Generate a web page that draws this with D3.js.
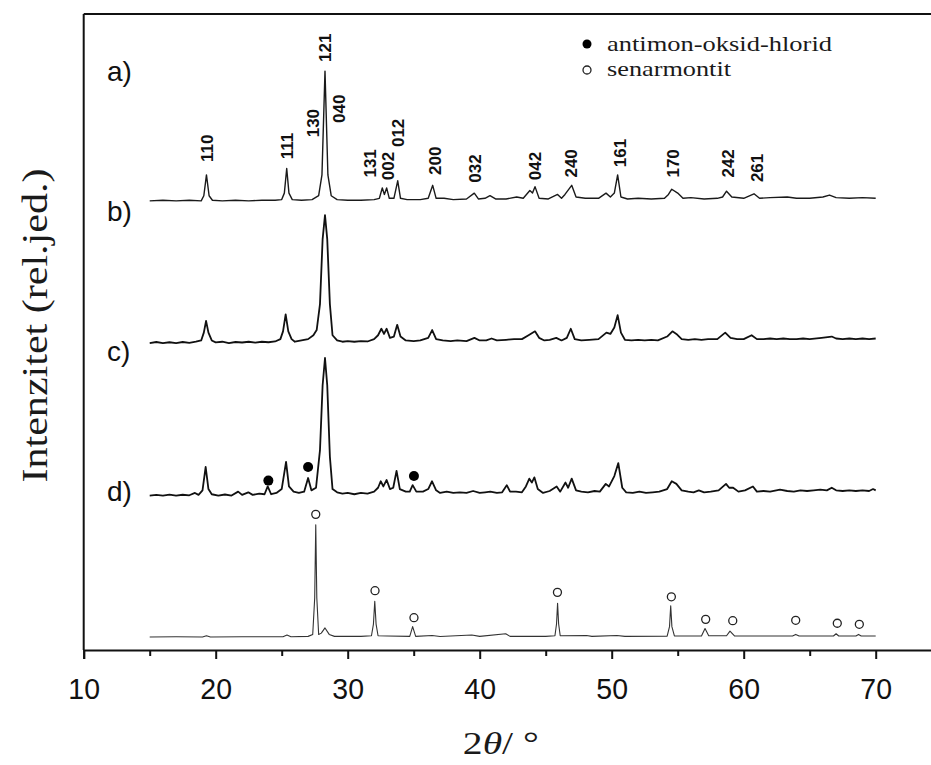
<!DOCTYPE html>
<html>
<head>
<meta charset="utf-8">
<script src="https://cdn.jsdelivr.net/npm/d3@7"></script>
<style>
	body { margin: 0; background: #fff; }
	svg { display: block; }
</style>
</head>
<body>
<script>

// panel names and vertical offsets (relative intensity units)
var panels = ['a)', 'b)', 'c)', 'd)'];
var offsets = [3.46, 2.365, 1.19, 0.10];

// diffractograms, [2theta, relative intensity]
var specA = [[15.0, 0.0], [16.0, 0.005], [17.0, 0.0], [18.0, 0.005], [18.9, 0.0], [19.1, 0.04], [19.3, 0.20], [19.5, 0.04], [19.75, 0.005],
	[20.5, 0.0], [21.5, 0.005], [22.5, 0.0], [23.5, 0.005], [24.5, 0.005], [25.0, 0.01], [25.2, 0.06], [25.38, 0.25], [25.55, 0.06],
	[25.8, 0.01], [26.5, 0.005], [27.3, 0.01], [27.8, 0.04], [28.05, 0.2], [28.28, 1.0], [28.5, 0.2], [28.75, 0.04], [29.2, 0.01],
	[30.0, 0.005], [31.0, 0.005], [32.0, 0.01], [32.4, 0.02], [32.62, 0.10], [32.78, 0.05], [32.95, 0.10], [33.15, 0.02], [33.5, 0.02],
	[33.79, 0.155], [34.0, 0.02], [34.5, 0.01], [35.5, 0.01], [36.1, 0.02], [36.44, 0.12], [36.7, 0.02], [37.3, 0.02], [38.0, 0.01],
	[39.0, 0.015], [39.59, 0.06], [39.9, 0.015], [40.4, 0.02], [40.78, 0.04], [41.2, 0.015], [42.0, 0.015], [42.8, 0.03], [43.3, 0.02],
	[43.8, 0.08], [44.0, 0.06], [44.19, 0.11], [44.5, 0.02], [45.2, 0.015], [45.9, 0.05], [46.2, 0.02], [46.46, 0.05], [46.97, 0.12],
	[47.3, 0.03], [48.0, 0.02], [49.0, 0.02], [49.57, 0.06], [49.9, 0.03], [50.2, 0.06], [50.45, 0.20], [50.7, 0.03], [51.2, 0.015],
	[52.0, 0.02], [53.0, 0.015], [54.0, 0.02], [54.3, 0.05], [54.55, 0.09], [55.0, 0.06], [55.4, 0.02], [56.0, 0.025], [57.0, 0.015],
	[58.0, 0.02], [58.4, 0.03], [58.7, 0.075], [59.1, 0.03], [60.0, 0.02], [60.78, 0.055], [61.2, 0.02], [62.0, 0.025], [63.3, 0.03],
	[64.0, 0.02], [65.0, 0.02], [66.0, 0.03], [66.5, 0.045], [67.0, 0.025], [68.0, 0.02], [69.0, 0.025], [70.0, 0.02]];

var specB = [[15.0, 0.0], [15.5, 0.008], [16.0, 0.0], [16.5, 0.006], [17.0, 0.0], [17.5, 0.008], [18.0, 0.002], [18.5, 0.01],
	[18.9, 0.02], [19.1, 0.08], [19.27, 0.17], [19.45, 0.08], [19.7, 0.02], [20.0, 0.005], [20.5, 0.01], [21.0, 0.0], [21.5, 0.008],
	[22.0, 0.004], [22.5, 0.01], [23.0, 0.003], [23.5, 0.01], [24.0, 0.006], [24.5, 0.012], [24.9, 0.03], [25.1, 0.09], [25.3, 0.22],
	[25.5, 0.09], [25.75, 0.03], [26.0, 0.01], [26.5, 0.02], [27.0, 0.03], [27.4, 0.06], [27.65, 0.10], [27.9, 0.3], [28.1, 0.8],
	[28.28, 0.985], [28.45, 0.8], [28.65, 0.3], [28.85, 0.06], [29.2, 0.02], [29.6, 0.01], [30.0, 0.015], [30.5, 0.01], [31.0, 0.015],
	[31.5, 0.012], [32.0, 0.03], [32.3, 0.06], [32.55, 0.11], [32.75, 0.07], [32.95, 0.11], [33.2, 0.04], [33.5, 0.05], [33.75, 0.14],
	[34.0, 0.05], [34.4, 0.02], [35.0, 0.015], [35.5, 0.02], [36.1, 0.04], [36.4, 0.10], [36.7, 0.03], [37.2, 0.02], [37.8, 0.015],
	[38.3, 0.02], [39.0, 0.015], [39.6, 0.04], [40.0, 0.02], [40.5, 0.02], [40.9, 0.035], [41.3, 0.02], [42.0, 0.025], [42.6, 0.03],
	[43.2, 0.03], [43.7, 0.06], [44.19, 0.09], [44.5, 0.04], [44.9, 0.02], [45.3, 0.025], [45.8, 0.04], [46.2, 0.02], [46.6, 0.04],
	[46.9, 0.11], [47.2, 0.03], [47.7, 0.02], [48.3, 0.025], [49.0, 0.03], [49.6, 0.08], [49.9, 0.07], [50.2, 0.12], [50.45, 0.215],
	[50.7, 0.08], [51.0, 0.025], [51.5, 0.02], [52.0, 0.025], [52.5, 0.02], [53.0, 0.025], [53.5, 0.02], [54.2, 0.05], [54.6, 0.09],
	[54.9, 0.07], [55.3, 0.03], [55.8, 0.025], [56.3, 0.03], [56.8, 0.025], [57.3, 0.03], [58.0, 0.03], [58.6, 0.08], [59.0, 0.04],
	[59.5, 0.03], [60.0, 0.03], [60.6, 0.06], [61.0, 0.03], [61.5, 0.03], [62.0, 0.035], [62.5, 0.03], [63.0, 0.035], [63.5, 0.03],
	[64.0, 0.03], [64.5, 0.035], [65.0, 0.03], [65.9, 0.04], [66.67, 0.05], [67.0, 0.035], [67.5, 0.03], [68.0, 0.035], [68.5, 0.03],
	[69.0, 0.035], [69.5, 0.03], [70.0, 0.035]];

var specC = [[15.0, 0.0], [15.5, 0.005], [16.0, 0.0], [16.5, 0.007], [17.0, 0.0], [17.5, 0.006], [18.0, 0.002], [18.43, 0.02],
	[18.7, 0.005], [19.0, 0.04], [19.24, 0.22], [19.45, 0.05], [19.7, 0.01], [20.2, 0.0], [20.7, 0.008], [21.2, 0.0], [21.7, 0.03],
	[22.0, 0.005], [22.47, 0.025], [22.8, 0.005], [23.3, 0.015], [23.7, 0.01], [23.94, 0.07], [24.2, 0.01], [24.6, 0.02], [25.0, 0.05],
	[25.33, 0.26], [25.55, 0.07], [25.9, 0.03], [26.3, 0.02], [26.7, 0.03], [27.0, 0.135], [27.25, 0.04], [27.6, 0.06], [27.9, 0.35],
	[28.1, 0.85], [28.28, 1.06], [28.45, 0.85], [28.65, 0.3], [28.85, 0.05], [29.2, 0.025], [29.6, 0.015], [30.0, 0.02], [30.5, 0.01],
	[31.0, 0.02], [31.5, 0.015], [32.0, 0.03], [32.3, 0.06], [32.5, 0.11], [32.7, 0.07], [32.95, 0.12], [33.2, 0.05], [33.45, 0.06],
	[33.7, 0.19], [33.95, 0.05], [34.4, 0.03], [34.7, 0.03], [34.92, 0.08], [35.2, 0.03], [35.7, 0.03], [36.1, 0.05], [36.39, 0.11],
	[36.7, 0.04], [37.0, 0.02], [37.5, 0.03], [38.0, 0.02], [38.5, 0.025], [39.0, 0.02], [39.5, 0.035], [40.0, 0.02], [40.4, 0.025],
	[40.8, 0.03], [41.3, 0.02], [41.7, 0.025], [42.05, 0.08], [42.3, 0.03], [42.75, 0.03], [43.2, 0.025], [43.5, 0.07], [43.76, 0.13],
	[43.95, 0.10], [44.14, 0.14], [44.4, 0.05], [44.8, 0.02], [45.3, 0.035], [45.83, 0.07], [46.1, 0.03], [46.5, 0.10], [46.7, 0.06],
	[46.97, 0.13], [47.3, 0.04], [47.7, 0.03], [48.2, 0.025], [48.7, 0.035], [49.1, 0.03], [49.55, 0.09], [49.8, 0.07], [50.2, 0.15],
	[50.5, 0.25], [50.8, 0.06], [51.1, 0.025], [51.6, 0.02], [52.1, 0.03], [52.6, 0.02], [53.1, 0.025], [53.6, 0.03], [54.2, 0.05],
	[54.55, 0.11], [54.9, 0.09], [55.3, 0.04], [55.8, 0.03], [56.2, 0.025], [56.6, 0.04], [57.0, 0.025], [57.5, 0.03], [58.1, 0.04],
	[58.66, 0.09], [58.9, 0.06], [59.2, 0.06], [59.6, 0.03], [60.1, 0.04], [60.7, 0.07], [61.0, 0.03], [61.5, 0.035], [62.0, 0.03],
	[62.75, 0.045], [63.3, 0.035], [63.8, 0.03], [64.3, 0.04], [64.8, 0.035], [65.3, 0.04], [65.8, 0.045], [66.3, 0.04], [66.67, 0.06],
	[67.0, 0.04], [67.5, 0.035], [68.0, 0.04], [68.5, 0.035], [69.0, 0.04], [69.5, 0.035], [69.8, 0.05], [70.0, 0.04]];

var specD = [[15.0, 0.0], [17.0, 0.002], [19.0, 0.0], [19.3, 0.01], [19.6, 0.0], [22.0, 0.002], [25.1, 0.002], [25.4, 0.015],
	[25.7, 0.002], [27.0, 0.005], [27.35, 0.02], [27.5, 0.3], [27.58, 0.865], [27.66, 0.3], [27.8, 0.02], [28.0, 0.03], [28.28, 0.07],
	[28.6, 0.02], [29.0, 0.005], [31.0, 0.005], [31.8, 0.01], [31.95, 0.1], [32.05, 0.275], [32.15, 0.1], [32.3, 0.01], [33.0, 0.008],
	[34.7, 0.005], [34.92, 0.08], [35.15, 0.005], [36.4, 0.012], [37.0, 0.004], [39.4, 0.015], [40.0, 0.005], [41.97, 0.025],
	[42.3, 0.005], [45.0, 0.005], [45.7, 0.01], [45.82, 0.1], [45.9, 0.26], [45.98, 0.1], [46.1, 0.01], [48.1, 0.012], [48.5, 0.005],
	[50.4, 0.012], [51.0, 0.005], [54.2, 0.006], [54.38, 0.08], [54.47, 0.24], [54.56, 0.08], [54.75, 0.008], [56.8, 0.008],
	[57.07, 0.065], [57.35, 0.01], [58.7, 0.01], [58.96, 0.045], [59.3, 0.008], [63.7, 0.008], [63.94, 0.02], [64.2, 0.008],
	[66.8, 0.008], [67.0, 0.025], [67.2, 0.008], [68.5, 0.008], [68.7, 0.02], [68.9, 0.008], [70.0, 0.008]];

// miller indices over pattern a): label, 2theta, level of label foot
var hklLabels = ['110', '111', '130', '121', '040', '131', '002', '012', '200', '032', '042', '240', '161', '170', '242', '261'];
var hklPos = [19.32, 25.38, 27.37, 28.28, 29.34, 31.69, 33.05, 33.8, 36.6, 39.64, 44.19, 46.92, 50.63, 54.65, 58.8, 61.0];
var hklLevel = [0.30, 0.32, 0.49, 1.07, 0.60, 0.18, 0.16, 0.415, 0.20, 0.14, 0.16, 0.18, 0.26, 0.18, 0.18, 0.145];

// phase markers: antimon-oksid-hlorid on c), senarmontit on d)
var dotsC = [[23.99, 0.115], [27.0, 0.22], [35.02, 0.15]];
var ringsD = [[27.58, 0.945], [32.07, 0.357], [35.02, 0.149], [45.89, 0.344], [54.52, 0.31], [57.12, 0.136],
	[59.17, 0.126], [63.94, 0.129], [67.09, 0.106], [68.76, 0.098]];

var xTicks = [10, 20, 30, 40, 50, 60, 70];
var xMinor = [15, 25, 35, 45, 55, 65];

var width = 931, height = 765;
var sans = "'Liberation Sans', Arial, sans-serif",
	serif = "'Liberation Serif', 'Times New Roman', Times, 'DejaVu Serif', serif";

var x = d3.scaleLinear()
	.domain([10, 75])
	.range([83.7, 941.7]);

var y = d3.scaleLinear()
	.domain([0, 4.9])
	.range([650, 14]);

var svg = d3.select('body').append('svg')
	.attr('width', width)
	.attr('height', height);

// frame: left and top border
svg.append('line')
	.attr('x1', x(10)).attr('y1', y(0))
	.attr('x2', x(10)).attr('y2', y(4.9))
	.attr('stroke', '#111').attr('stroke-width', 2);
svg.append('line')
	.attr('x1', x(10)).attr('y1', y(4.9))
	.attr('x2', x(75)).attr('y2', y(4.9))
	.attr('stroke', '#111').attr('stroke-width', 2);

// bottom axis, major and minor ticks
var xAxis = svg.append('g')
	.attr('transform', 'translate(0,' + y(0) + ')')
	.call(d3.axisBottom(x).tickValues(xTicks).tickSize(9).tickPadding(19).tickFormat(d3.format('d')));
xAxis.select('.domain').attr('stroke', '#111').attr('stroke-width', 2);
xAxis.selectAll('.tick line').attr('stroke', '#111').attr('stroke-width', 2);
xAxis.selectAll('.tick text')
	.attr('fill', '#111')
	.style('font-family', sans)
	.style('font-size', '30px')
	.attr('transform', 'scale(0.95,1)');

var xAxisMinor = svg.append('g')
	.attr('transform', 'translate(0,' + y(0) + ')')
	.call(d3.axisBottom(x).tickValues(xMinor).tickSize(6).tickFormat(''));
xAxisMinor.select('.domain').remove();
xAxisMinor.selectAll('.tick line').attr('stroke', '#111').attr('stroke-width', 2);

// axis titles
svg.append('text')
	.attr('transform', 'translate(' + x(41.6) + ',754)')
	.attr('text-anchor', 'middle')
	.attr('textLength', 76)
	.attr('lengthAdjust', 'spacingAndGlyphs')
	.style('font-family', serif)
	.style('font-stretch', 'condensed')
	.style('font-size', '31px')
	.attr('fill', '#1a1a1a')
	.html('2<tspan font-style="italic">θ</tspan>/ °');

svg.append('text')
	.attr('transform', 'translate(47,' + y(2.5) + ') rotate(-90)')
	.attr('text-anchor', 'middle')
	.attr('textLength', 314)
	.attr('lengthAdjust', 'spacingAndGlyphs')
	.style('font-family', serif)
	.style('font-stretch', 'condensed')
	.style('font-size', '35px')
	.attr('fill', '#1a1a1a')
	.text('Intenzitet (rel.jed.)');

// patterns
var specs = [specA, specB, specC, specD];
var widths = [1.4, 1.8, 1.8, 1.1];
var colors = ['#1a1a1a', '#111', '#111', '#333'];

specs.forEach(function(s, i) {
	var line = d3.line()
		.x(function(d) { return x(d[0]); })
		.y(function(d) { return y(offsets[i] + d[1]); });

	svg.append('path')
		.attr('d', line(s))
		.attr('fill', 'none')
		.attr('stroke', colors[i])
		.attr('stroke-width', widths[i])
		.attr('stroke-linejoin', 'round');
});

// panel labels a) .. d)
var labelLevel = [0.92, 0.94, 1.035, 1.045];
panels.forEach(function(p, i) {
	svg.append('text')
		.attr('x', 107)
		.attr('y', y(offsets[i] + labelLevel[i]))
		.style('font-family', sans)
		.style('font-size', '28px')
		.attr('fill', '#111')
		.text(p);
});

// hkl labels
hklLabels.forEach(function(h, i) {
	svg.append('text')
		.attr('transform', 'translate(' + x(hklPos[i]) + ',' + y(offsets[0] + hklLevel[i]) + ') rotate(-90)')
		.attr('dy', '0.36em')
		.style('font-family', sans)
		.style('font-weight', 'bold')
		.style('font-size', '17px')
		.attr('fill', '#111')
		.text(h);
});

// markers
svg.selectAll('.dotC')
	.data(dotsC)
	.enter().append('circle')
	.attr('cx', function(d) { return x(d[0]); })
	.attr('cy', function(d) { return y(offsets[2] + d[1]); })
	.attr('r', 5)
	.attr('fill', '#000');

svg.selectAll('.ringD')
	.data(ringsD)
	.enter().append('circle')
	.attr('cx', function(d) { return x(d[0]); })
	.attr('cy', function(d) { return y(offsets[3] + d[1]); })
	.attr('r', 4)
	.attr('fill', '#fff')
	.attr('stroke', '#222')
	.attr('stroke-width', 1.3);

// legend
var legend = svg.append('g').attr('transform', 'translate(587,0)');
legend.append('circle').attr('cx', 0).attr('cy', 44).attr('r', 4.5).attr('fill', '#000');
legend.append('circle').attr('cx', 0).attr('cy', 70).attr('r', 4).attr('fill', '#fff')
	.attr('stroke', '#222').attr('stroke-width', 1.3);
legend.append('text')
	.attr('x', 20).attr('y', 51)
	.attr('textLength', 225)
	.attr('lengthAdjust', 'spacingAndGlyphs')
	.style('font-family', serif)
	.style('font-stretch', 'condensed')
	.style('font-size', '22px')
	.attr('fill', '#1a1a1a')
	.text('antimon-oksid-hlorid');
legend.append('text')
	.attr('x', 20).attr('y', 76)
	.attr('textLength', 124)
	.attr('lengthAdjust', 'spacingAndGlyphs')
	.style('font-family', serif)
	.style('font-stretch', 'condensed')
	.style('font-size', '22px')
	.attr('fill', '#1a1a1a')
	.text('senarmontit');

</script>
</body>
</html>
